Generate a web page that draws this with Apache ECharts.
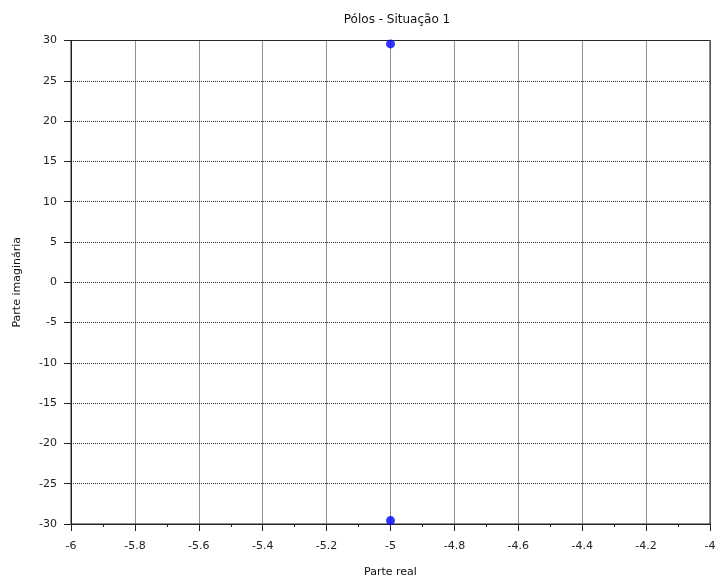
<!DOCTYPE html>
<html><head><meta charset="utf-8">
<script src="https://cdn.jsdelivr.net/npm/echarts@6/dist/echarts.min.js"></script>
<style>html,body{margin:0;padding:0;background:#fff}#c{width:721px;height:584px}</style>
</head><body><div id="c"></div>
<script>
const realParts = [-5, -5];
const imagParts = [29.58, -29.58];
const xRange = [-6, -4];
const yRange = [-30, 30];
const titleText = 'Pólos - Situação 1';
const xName = 'Parte real';
const yName = 'Parte imaginária';

const points = realParts.map((r, i) => [r, imagParts[i]]);
const fmt = v => String(Math.round(v * 10) / 10);
const font = 'DejaVu Sans, Liberation Sans, sans-serif';
const chart = echarts.init(document.getElementById('c'));
chart.setOption({
  animation: false,
  backgroundColor: '#fff',
  title: {text: titleText, left: 392, top: 9, textAlign: 'center',
    textStyle: {fontSize: 12, fontWeight: 'normal', color: '#111', fontFamily: font}},
  grid: {left: 71, right: 11, top: 40.5, bottom: 60, show: true, borderColor: '#222', borderWidth: 1},
  xAxis: {type: 'value', min: xRange[0], max: xRange[1], interval: 0.2,
    name: xName, nameLocation: 'middle', nameGap: 43,
    nameTextStyle: {fontSize: 11, color: '#111', fontFamily: font},
    axisLine: {show: true, onZero: false, lineStyle: {color: '#222', width: 1}},
    axisTick: {show: true, inside: false, length: 7, lineStyle: {color: '#222'}},
    minorTick: {show: true, splitNumber: 2, length: 3, lineStyle: {color: '#222'}},
    axisLabel: {formatter: fmt, fontSize: 11, color: '#222', margin: 17, fontFamily: font},
    splitLine: {show: true, lineStyle: {color: '#222', type: [1, 1], width: 1}}},
  yAxis: {type: 'value', min: yRange[0], max: yRange[1], interval: 5,
    name: yName, nameLocation: 'middle', nameGap: 48, nameRotate: 90,
    nameTextStyle: {fontSize: 11, color: '#111', fontFamily: font},
    axisLine: {show: true, onZero: false, lineStyle: {color: '#222', width: 1}},
    axisTick: {show: true, inside: false, length: 7, lineStyle: {color: '#222'}},
    axisLabel: {formatter: fmt, fontSize: 11, color: '#222', margin: 14, fontFamily: font},
    splitLine: {show: true, lineStyle: {color: '#333', type: [1, 1], width: 1}}},
  series: [{type: 'scatter', data: points, symbol: 'circle', symbolSize: 9,
    itemStyle: {color: '#0000ff'}}]
});
</script></body></html>
